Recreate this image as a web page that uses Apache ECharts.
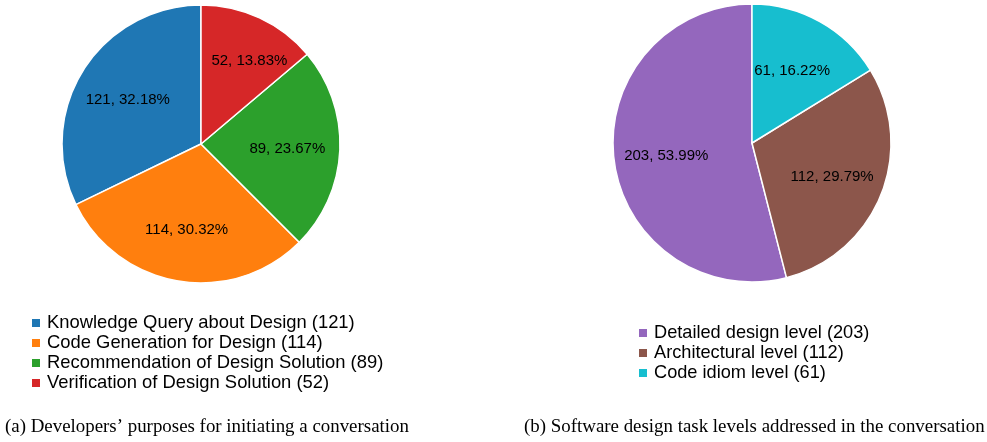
<!DOCTYPE html>
<html><head><meta charset="utf-8">
<script src="https://cdn.jsdelivr.net/npm/echarts@6/dist/echarts.min.js"></script>
<style>html,body{margin:0;padding:0;background:#fff}#c{width:987px;height:442px}</style>
</head><body><div id="c"></div>
<script>
const purposeNames = ['Knowledge Query about Design','Code Generation for Design','Recommendation of Design Solution','Verification of Design Solution'];
const purposeValues = [121, 114, 89, 52];
const purposeColors = ['#1f77b4','#ff7f0e','#2ca02c','#d62728'];
const levelNames = ['Detailed design level','Architectural level','Code idiom level'];
const levelValues = [203, 112, 61];
const levelColors = ['#9467bd','#8c564b','#17becf'];
const captionA = '(a) Developers\u2019 purposes for initiating a conversation';
const captionB = '(b) Software design task levels addressed in the conversation';

const chart = echarts.init(document.getElementById('c'), null, {renderer:'canvas'});
const mk = (names, vals, colors) => names.map((n,i)=>({name:n, value:vals[i], itemStyle:{color:colors[i]}}));
const lookup = {};
purposeNames.forEach((n,i)=>lookup[n]=purposeValues[i]);
levelNames.forEach((n,i)=>lookup[n]=levelValues[i]);
const R = 139;
function pieSeries(center, data, labelOffsets){
  return [
    {type:'pie', center:center, radius:[0,R], clockwise:false, startAngle:90, data:data,
     itemStyle:{borderColor:'#fff', borderWidth:1.5}, label:{show:false}, labelLine:{show:false},
     emphasis:{disabled:true}, silent:true, animation:false},
    {type:'pie', center:center, radius:[0,R*1.2], clockwise:false, startAngle:90,
     data:data.map((d,i)=>({name:d.name, value:d.value, itemStyle:{color:'rgba(0,0,0,0)'},
        label:{offset:(labelOffsets && labelOffsets[i]) || [0,2]}})),
     itemStyle:{borderWidth:0},
     label:{show:true, position:'inside', formatter:'{c}, {d}%', color:'#000', fontSize:15, fontFamily:'Liberation Sans'},
     labelLine:{show:false}, emphasis:{disabled:true}, silent:true, animation:false, legendHoverLink:false}
  ];
}
const legendText = {fontSize:18.4, lineHeight:20, fontFamily:'Liberation Sans', color:'#000', padding:[0,0,0,1]};
chart.setOption({
  animation:false,
  legend:[
    {data:purposeNames, left:30, top:313, orient:'vertical', icon:'rect', itemWidth:10, itemHeight:10, itemGap:0,
     textStyle:legendText, formatter:n=>n+' ('+lookup[n]+')', selectedMode:false, padding:0},
    {data:levelNames, left:637, top:323, orient:'vertical', icon:'rect', itemWidth:10, itemHeight:10, itemGap:0,
     textStyle:Object.assign({}, legendText, {fontSize:18.2}), formatter:n=>n+' ('+lookup[n]+')', selectedMode:false, padding:0}
  ],
  title:[
    {text:captionA, left:5, top:418, padding:0, textStyle:{fontFamily:'Liberation Serif', fontSize:18.9, fontWeight:'normal', color:'#000'}},
    {text:captionB, left:524, top:418, padding:0, textStyle:{fontFamily:'Liberation Serif', fontSize:18.9, fontWeight:'normal', color:'#000'}}
  ],
  series:[
    ...pieSeries([201,144], mk(purposeNames, purposeValues, purposeColors), [[0,2],[0,1],[0,1],[12,-5]]),
    ...pieSeries([752,143], mk(levelNames, levelValues, levelColors), [[0,2],[0,1],[-2,3]])
  ]
});
</script></body></html>
